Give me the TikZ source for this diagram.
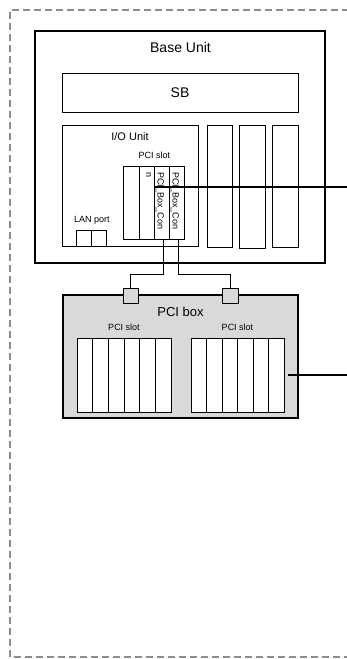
\documentclass[tikz,border=0pt]{standalone}
\usepackage{fontspec}
\setmainfont{Liberation Sans}
\definecolor{dashgray}{RGB}{140,140,140}
\definecolor{boxgray}{RGB}{217,217,217}
\begin{document}
\begin{tikzpicture}[x=1pt,y=-1pt,
  box/.style={draw, line width=0.9pt, inner sep=0pt, outer sep=0pt, anchor=north west},
  lbl/.style={inner sep=0pt, font=\fontsize{#1}{#1}\selectfont},
  rot/.style={inner sep=0pt, rotate=-90, anchor=base west, font=\fontsize{9}{11}\selectfont},
  bus/.style={line width=2.7pt},
  wire/.style={line width=0.9pt}]
\useasboundingbox (0,0) rectangle (347,659);
\clip (0,0) rectangle (347,659);
% outer dashed frame
\draw[dashgray, line width=1.3pt, dash pattern=on 7pt off 4pt] (360,10) -- (10,10) -- (10,657) -- (360,657);
% base unit
\node[box, line width=2.2pt, minimum width=290pt, minimum height=232pt] (base) at (35,31) {};
\node[lbl=14] (basel) at (180.5,47.5) {Base Unit};
\node[box, minimum width=236pt, minimum height=39pt] (sb) at (62,73) {};
\node[lbl=14] (sbl) at (sb.center) {SB};
% I/O unit
\node[box, minimum width=136pt, minimum height=121pt] (io) at (62,125) {};
\node[lbl=11] (iol) at (130,137) {I/O Unit};
\node[lbl=9] (psl) at (154.5,155) {PCI slot};
\node[box, minimum width=16pt, minimum height=73pt] (s1) at (123,166) {};
\node[box, minimum width=15pt, minimum height=73pt] (s2) at (139,166) {};
\node[box, minimum width=15pt, minimum height=73pt] (s3) at (154,166) {};
\node[box, minimum width=15pt, minimum height=73pt] (s4) at (169,166) {};
\node[rot] (t3) at (157.5,172) {PCI\_Box\_Con};
\node[rot] (t3b) at (146,172) {n};
\node[rot] (t4) at (172.5,172) {PCI\_Box\_Con};
\node[lbl=9] (lanl) at (92,220) {LAN port};
\node[box, minimum width=15pt, minimum height=16pt] (lan1) at (76,230) {};
\node[box, minimum width=15pt, minimum height=16pt] (lan2) at (91,230) {};
% right slots
\node[box, minimum width=25pt, minimum height=122pt] (r1) at (207,125) {};
\node[box, minimum width=26pt, minimum height=123pt] (r2) at (239,125) {};
\node[box, minimum width=26pt, minimum height=122pt] (r3) at (272,125) {};
% bus through base unit
\coordinate (e1) at (352,187);
\draw[bus] (s3.west |- e1) -- (e1);
% PCI box
\node[box, line width=1.6pt, fill=boxgray, minimum width=235pt, minimum height=123pt] (pbox) at (63,295) {};
\node[lbl=13] (pboxl) at (180.5,312) {PCI box};
\node[lbl=9] (pslA) at (124,327) {PCI slot};
\node[lbl=9] (pslB) at (237.5,327) {PCI slot};
\node[box, fill=white, minimum width=94pt, minimum height=74pt] (g1) at (77,338) {};
\node[box, fill=white, minimum width=93pt, minimum height=74pt] (g2) at (191,338) {};
\foreach \i in {0,...,5} {
  \node[box, minimum width=15.67pt, minimum height=74pt] (a\i) at (77+\i*15.67,338) {};
  \node[box, minimum width=15.5pt, minimum height=74pt] (b\i) at (191+\i*15.5,338) {};
}
% connectors
\node[box, fill=boxgray, minimum width=15pt, minimum height=15pt] (cl) at (123,288) {};
\node[box, fill=boxgray, minimum width=16pt, minimum height=15pt] (cr) at (222,288) {};
\draw[wire] ([xshift=1.5pt]s3.south) -- ++(0,35) -| (cl.north);
\draw[wire] ([xshift=1.5pt]s4.south) -- ++(0,35) -| (cr.north);
% bus from PCI box
\coordinate (e2) at (352,375);
\draw[bus] ([xshift=4pt]g2.east) -- (e2);
\end{tikzpicture}
\end{document}
